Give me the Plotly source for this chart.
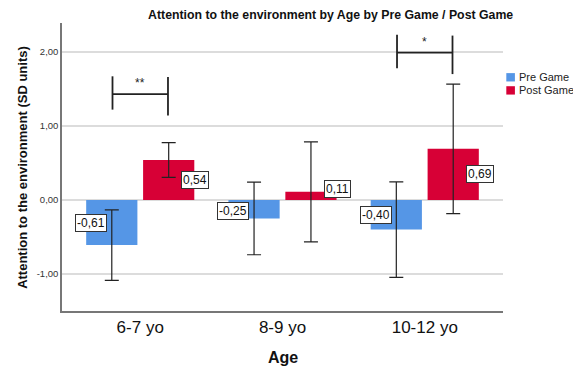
import plotly.graph_objects as go

# Group means (SD units) and error bar half-widths per age group
ages = ["6-7 yo", "8-9 yo", "10-12 yo"]
pre_game = [-0.61, -0.25, -0.40]
post_game = [0.54, 0.11, 0.69]
pre_err = [0.475, 0.49, 0.645]
post_err = [0.235, 0.675, 0.875]

y_ticks = [-1, 0, 1, 2]
y_tick_labels = ["-1,00", "0,00", "1,00", "2,00"]

# Significance markers: (age index, y level, stars)
sig = [(0, 1.43, "**"), (2, 1.99, "*")]

series_names = ["Pre Game", "Post Game"]
BLUE = "#5596E6"
RED = "#D70036"
FONT = "Liberation Sans, Arial, sans-serif"

x_idx = list(range(len(ages)))

fig = go.Figure()
fig.add_trace(go.Bar(
    x=x_idx, y=pre_game, name=series_names[0], marker=dict(color=BLUE, line=dict(width=0)),
    error_y=dict(type="data", array=pre_err, color="#222222", thickness=1.2, width=7),
))
fig.add_trace(go.Bar(
    x=x_idx, y=post_game, name=series_names[1], marker=dict(color=RED, line=dict(width=0)),
    error_y=dict(type="data", array=post_err, color="#222222", thickness=1.2, width=7),
))


def fmt(v):
    return f"{v:.2f}".replace(".", ",")


def label_y(v):
    # centre of bar, kept clear of the zero line
    y = v / 2
    if abs(y) < 0.15:
        y = 0.15 if v >= 0 else -0.15
    return y


annotations = []
for i in x_idx:
    for v, dx in ((pre_game[i], -0.345), (post_game[i], 0.385)):
        annotations.append(dict(
            x=i + dx, y=label_y(v), xref="x", yref="y", text=fmt(v), showarrow=False,
            font=dict(family=FONT, size=12, color="#111111"),
            bgcolor="white", bordercolor="#333333", borderwidth=1, borderpad=1,
        ))

shapes = []
for i, lvl, stars in sig:
    x0, x1 = i - 0.195, i + 0.195
    line = dict(color="#222222", width=1.8)
    shapes.append(dict(type="line", xref="x", yref="y", x0=x0, x1=x1, y0=lvl, y1=lvl, line=line))
    shapes.append(dict(type="line", xref="x", yref="y", x0=x0, x1=x0, y0=lvl - 0.21, y1=lvl + 0.24, line=line))
    shapes.append(dict(type="line", xref="x", yref="y", x0=x1, x1=x1, y0=lvl - 0.29, y1=lvl + 0.23, line=line))
    annotations.append(dict(
        x=i, y=lvl + 0.15, xref="x", yref="y", text=stars, showarrow=False,
        font=dict(family=FONT, size=12, color="#222222"),
    ))

# Legend: small square swatches with labels to the right of the plot
for k, (name, col) in enumerate(zip(series_names, [BLUE, RED])):
    y_top = 0.826 - k * 0.0455
    shapes.append(dict(type="rect", xref="paper", yref="paper",
                       x0=1.0075, x1=1.027, y0=y_top - 0.029, y1=y_top,
                       fillcolor=col, line=dict(width=0)))
    annotations.append(dict(
        x=1.031, y=y_top - 0.0145, xref="paper", yref="paper", text=name, showarrow=False,
        xanchor="left", yanchor="middle", font=dict(family=FONT, size=11, color="#222222"),
    ))

annotations.append(dict(
    x=-0.091, y=0.5, xref="paper", yref="paper", text="<b>Attention to the environment (SD units)</b>",
    textangle=-90, showarrow=False, xanchor="center", yanchor="middle",
    font=dict(family=FONT, size=13, color="#111111"),
))
annotations.append(dict(
    x=0.5, y=-0.16, xref="paper", yref="paper", text="<b>Age</b>", showarrow=False,
    xanchor="center", yanchor="middle", font=dict(family=FONT, size=16, color="#111111"),
))

fig.update_layout(
    width=573, height=367,
    margin=dict(l=62, r=70, t=23, b=56, autoexpand=False),
    paper_bgcolor="white", plot_bgcolor="white",
    barmode="group", bargap=0.2, bargroupgap=0.1,
    showlegend=False,
    font=dict(family=FONT, color="#111111"),
    title=dict(
        text="<b>Attention to the environment by Age by Pre Game / Post Game</b>",
        x=0.577, xref="container", xanchor="center", y=0.959, yref="container", yanchor="middle",
        font=dict(family=FONT, size=12.3, color="#111111"),
    ),
    xaxis=dict(
        range=[-0.55, 2.55], tickmode="array", tickvals=x_idx, ticktext=ages,
        showgrid=False, zeroline=False, showline=True, linecolor="#777777", linewidth=1.5,
        ticks="", tickfont=dict(family=FONT, size=17, color="#111111"),
    ),
    yaxis=dict(
        range=[-1.5, 2.39], tickmode="array", tickvals=y_ticks, ticktext=y_tick_labels,
        showgrid=True, gridcolor="#DCDCDC", gridwidth=2, zeroline=False,
        showline=True, linecolor="#777777", linewidth=1.5, ticks="",
        tickfont=dict(family=FONT, size=9.5, color="#333333"),
    ),
    annotations=annotations,
    shapes=shapes,
)

fig.write_html("out.html")
